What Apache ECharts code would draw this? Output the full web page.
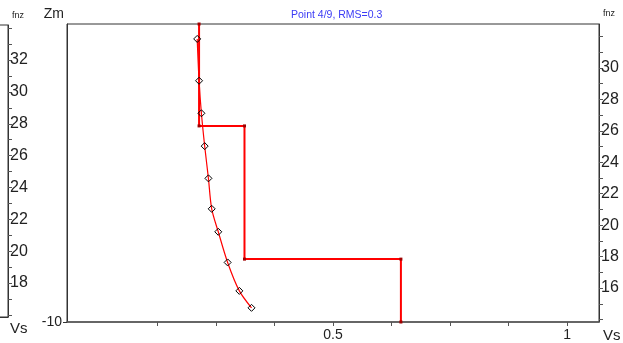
<!DOCTYPE html>
<html>
<head>
<meta charset="utf-8">
<script src="https://cdn.jsdelivr.net/npm/echarts@6/dist/echarts.min.js"></script>
<style>
html,body{margin:0;padding:0;background:#fff;}
#c{width:623px;height:343px;}
</style>
</head>
<body>
<div id="c"></div>
<script>
// Layer model (step profile): Vs vs depth Zm
var stepVs    = [0.214, 0.214, 0.311, 0.311, 0.645, 0.645];
var stepDepth = [0, -3.42, -3.42, -7.89, -7.89, -10];
// Dispersion points: Vs vs frequency
var curveVs   = [0.210, 0.214, 0.219, 0.226, 0.234, 0.241, 0.255, 0.275, 0.300, 0.326];
var curveFreq = [31.85, 29.19, 27.12, 25.03, 22.98, 21.04, 19.58, 17.63, 15.82, 14.74];
// Tick / label values
var xTicks      = [0.125, 0.25, 0.375, 0.5, 0.625, 0.75, 0.875, 1];
var xLabels     = [0.5, 1];
var rightTicks  = [14,15,16,17,18,19,20,21,22,23,24,25,26,27,28,29,30,31,32];
var rightLabels = [16,18,20,22,24,26,28,30];
var leftTicks   = [16,17,18,19,20,21,22,23,24,25,26,27,28,29,30,31,32,33,34];
var leftLabels  = [18,20,22,24,26,28,30,32];
var zmLabels    = [-10];
var titleText   = 'Point 4/9, RMS=0.3';

var FONT = 'Liberation Sans';
var chart = echarts.init(document.getElementById('c'), null, {renderer:'canvas'});

var option = {
  animation: false,
  backgroundColor: '#fff',
  textStyle: {fontFamily: FONT},
  title: {
    text: titleText,
    left: 286, top: 5,
    textStyle: {fontSize: 10.5, fontWeight: 'normal', color: '#3b3bf5', fontFamily: FONT}
  },
  grid: [
    {left: 67, right: 24, top: 24, bottom: 21, show: true, borderColor: '#333', borderWidth: 1,
     backgroundColor: 'transparent', containLabel: false, outerBoundsMode: 'none'},
    {left: -60, width: 68, top: 25, bottom: 26, show: true, borderColor: '#333', borderWidth: 1,
     backgroundColor: 'transparent', containLabel: false, outerBoundsMode: 'none'}
  ],
  xAxis: [
    {
      type: 'value', gridIndex: 0, min: -0.068, max: 1.068, position: 'bottom',
      name: 'Vs', nameLocation: 'end', nameGap: 4,
      nameTextStyle: {fontSize: 15, color: '#222', verticalAlign: 'top', padding: [6,0,0,0]},
      splitLine: {show: false},
      axisLine: {show: true, onZero: false, lineStyle: {color: '#555', width: 1.5}},
      axisTick: {show: true, length: 4, customValues: xTicks, lineStyle: {color: '#555'}},
      axisLabel: {show: true, customValues: xLabels, fontSize: 14, color: '#222', margin: 6,
        formatter: function(v){ return String(v); }}
    },
    {
      type: 'value', gridIndex: 1, min: 0, max: 1, position: 'bottom',
      name: 'Vs', nameLocation: 'end', nameGap: 2,
      nameTextStyle: {fontSize: 15, color: '#222', verticalAlign: 'top', padding: [4,0,0,0]},
      splitLine: {show: false},
      axisLine: {show: true, onZero: false, lineStyle: {color: '#333'}},
      axisTick: {show: false},
      axisLabel: {show: false}
    }
  ],
  yAxis: [
    {
      type: 'value', gridIndex: 0, position: 'left', min: -10, max: 0,
      name: 'Zm', nameLocation: 'end', nameGap: 3,
      nameTextStyle: {fontSize: 14, color: '#222', align: 'right', padding: [0,3,0,0]},
      splitLine: {show: false},
      axisLine: {show: true, onZero: false, lineStyle: {color: '#333'}},
      axisTick: {show: true, length: 4, customValues: zmLabels, lineStyle: {color: '#333'}},
      axisLabel: {show: true, customValues: zmLabels, fontSize: 14, color: '#222', margin: 5}
    },
    {
      type: 'value', gridIndex: 0, position: 'right', min: 13.84, max: 32.8,
      name: 'fnz', nameLocation: 'end', nameGap: 6,
      nameTextStyle: {fontSize: 9, color: '#222', align: 'left', padding: [0,0,0,4]},
      splitLine: {show: false},
      axisLine: {show: true, onZero: false, lineStyle: {color: '#333'}},
      axisTick: {show: true, length: 4, customValues: rightTicks, lineStyle: {color: '#555'}},
      axisLabel: {show: true, customValues: rightLabels, fontSize: 16, color: '#222', margin: 2}
    },
    {
      type: 'value', gridIndex: 1, position: 'right', min: 15.87, max: 34.2,
      name: 'fnz', nameLocation: 'end', nameGap: 5,
      nameTextStyle: {fontSize: 9, color: '#222', align: 'left', padding: [0,0,0,4]},
      splitLine: {show: false},
      axisLine: {show: true, onZero: false, lineStyle: {color: '#333'}},
      axisTick: {show: true, length: 4, customValues: leftTicks, lineStyle: {color: '#555'}},
      axisLabel: {show: true, customValues: leftLabels, fontSize: 16, color: '#222', margin: 2}
    }
  ],
  series: [
    {
      type: 'line', xAxisIndex: 0, yAxisIndex: 0,
      data: stepVs.map(function(v,i){ return [v, stepDepth[i]]; }),
      lineStyle: {color: '#ff0000', width: 2},
      symbol: 'rect', symbolSize: 3, showSymbol: true,
      itemStyle: {color: '#a00000'},
      z: 2
    },
    {
      type: 'line', xAxisIndex: 0, yAxisIndex: 1,
      data: curveVs.map(function(v,i){ return [v, curveFreq[i]]; }),
      smooth: 0.3,
      lineStyle: {color: '#ff0000', width: 1.2},
      symbol: 'diamond', symbolSize: 7, showSymbol: true,
      itemStyle: {color: 'rgba(255,255,255,0)', borderColor: '#000', borderWidth: 1},
      z: 3
    }
  ]
};
chart.setOption(option);
</script>
</body>
</html>
